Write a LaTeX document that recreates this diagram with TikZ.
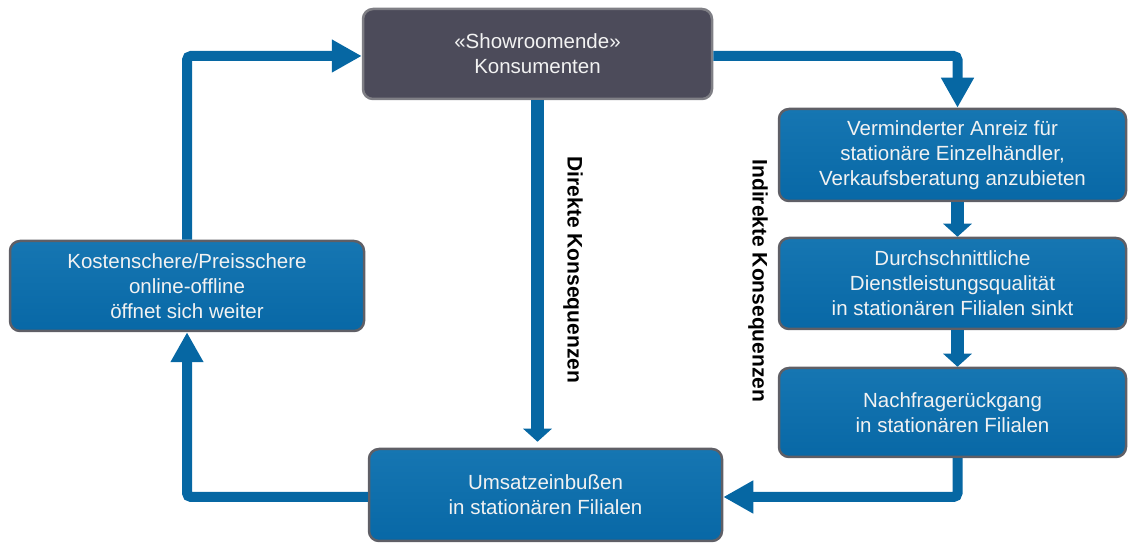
\documentclass[tikz,border=0pt]{standalone}
\usepackage{fontspec}
\setmainfont{Liberation Sans}
\usetikzlibrary{arrows.meta,calc}
\definecolor{boxblue}{RGB}{8,104,166}
\definecolor{boxbluetop}{RGB}{22,118,178}
\definecolor{arrblue}{RGB}{6,103,163}
\definecolor{darkbox}{RGB}{76,75,90}
\definecolor{rimgray}{RGB}{95,95,102}
\begin{document}
\begin{tikzpicture}[x=1pt,y=1pt,
  box/.style={rectangle, rounded corners=10pt, draw=rimgray, line width=2.5pt,
    top color=boxbluetop, bottom color=boxblue, text=white!95!black,
    align=center, font=\fontsize{20.5pt}{25pt}\selectfont, inner sep=0pt},
  darkbox/.style={box, top color=darkbox, bottom color=darkbox, draw=rimgray!80},
  longarr/.style={draw=arrblue, line width=10pt, rounded corners=4pt,
    -{Triangle[length=30pt,width=31pt]}},
  shortarr/.style={draw=arrblue, line width=13pt,
    -{Triangle[length=13pt,width=28pt]}},
  lbl/.style={font=\fontsize{21pt}{25pt}\selectfont\bfseries, rotate=-90}
]
\useasboundingbox (0,0) rectangle (1129,543);
\node[darkbox, minimum width=349pt, minimum height=90pt] (show) at (537.5,489) {«Showroomende»\\Konsumenten};
\node[box, minimum width=347pt, minimum height=92pt] (b1) at (952.5,388) {Verminderter Anreiz für\\stationäre Einzelhändler,\\Verkaufsberatung anzubieten};
\node[box, minimum width=347pt, minimum height=91pt] (b2) at (952.5,259.5) {Durchschnittliche\\Dienstleistungsqualität\\in stationären Filialen sinkt};
\node[box, minimum width=347pt, minimum height=89pt] (b3) at (952.5,130.5) {Nachfragerückgang\\in stationären Filialen};
\node[box, minimum width=354pt, minimum height=90pt] (left) at (187,257) {Kostenschere/Preisschere\\online-offline\\öffnet sich weiter};
\node[box, minimum width=353pt, minimum height=92pt] (bot) at (545.5,48) {Umsatzeinbußen\\in stationären Filialen};

\node[lbl] (dk) at (573,273) {Direkte Konsequenzen};
\node[lbl] (ik) at (758,262) {Indirekte Konsequenzen};

\coordinate (dtip) at ($(show.south |- bot.north)+(0,6pt)$);
\draw[longarr] ([yshift=-2pt]show.east) -| ([xshift=5pt]b1.north);
\draw[shortarr] ([xshift=5pt]b1.south) -- ([xshift=5pt]b2.north);
\draw[shortarr] ([xshift=5pt]b2.south) -- ([xshift=5pt]b3.north);
\draw[longarr] ([xshift=5pt]b3.south) |- ([yshift=-2pt]bot.east);
\draw[longarr] ([yshift=-2pt]bot.west) -| (left.south);
\draw[longarr] (left.north) |- ([yshift=-2pt]show.west);
\draw[shortarr] (show.south) -- (dtip);
\end{tikzpicture}
\end{document}
